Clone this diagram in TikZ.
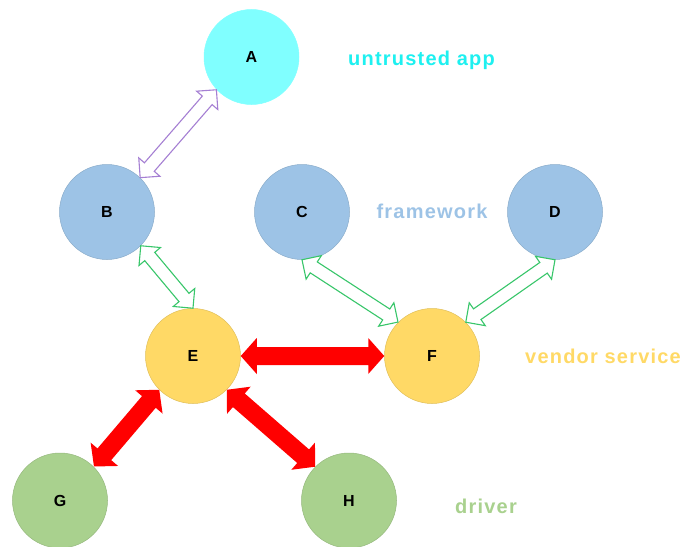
\documentclass[tikz,border=0pt]{standalone}
\usepackage{fontspec}
\setmainfont{Liberation Sans}
\usetikzlibrary{calc}

\definecolor{appfill}{HTML}{80FFFF}
\definecolor{apptext}{HTML}{1EF0F0}
\definecolor{fwblue}{HTML}{9DC3E6}
\definecolor{vsyellow}{HTML}{FFD966}
\definecolor{drvgreen}{HTML}{A9D18E}
\definecolor{linkpurple}{HTML}{A57FD3}
\definecolor{linkgreen}{HTML}{38C66A}
\definecolor{hotred}{HTML}{FF0000}

% Double-headed block arrow between two points.
% #1 style, #2 start, #3 end, #4 half shaft width, #5 half head width, #6 head length (pt)
\newcommand\blockarrow[6]{%
  \path let \p1=(#2), \p2=(#3) in
    \pgfextra{%
      \pgfmathsetmacro\batmpang{atan2(\y2-\y1,\x2-\x1)}%
      \pgfmathsetmacro\batmplen{veclen(\x2-\x1,\y2-\y1)}%
      \global\let\baang\batmpang
      \global\let\balen\batmplen
      \xdef\bax{\x1}\xdef\bay{\y1}};
  \draw[#1, shift={(\bax,\bay)}, rotate=\baang]
    (0pt,0pt) -- (#6pt,#5pt) -- (#6pt,#4pt) -- (\balen pt-#6pt,#4pt)
    -- (\balen pt-#6pt,#5pt) -- (\balen pt,0pt) -- (\balen pt-#6pt,-#5pt)
    -- (\balen pt-#6pt,-#4pt) -- (#6pt,-#4pt) -- (#6pt,-#5pt) -- cycle;
}

\tikzset{
  ball/.style={circle, minimum size=95pt, inner sep=0pt, line width=0.5pt,
    fill=#1, draw=#1!88!black,
    font=\fontsize{16}{19}\selectfont\bfseries},
  tier/.style={anchor=base, text=#1,
    font=\fontsize{20}{24}\selectfont\bfseries\addfontfeatures{LetterSpace=6}},
  hollowlink/.style={draw=#1, fill=white, line width=1.1pt, line join=miter},
  hotlink/.style={fill=hotred, draw=none},
}

\begin{document}
\begin{tikzpicture}[x=1pt, y=-1pt]
  \useasboundingbox (0,0) rectangle (687,546);

  % components
  \node[ball=appfill, draw=appfill] (A) at (251.5,57) {A};
  \node[ball=fwblue] (B) at (107,212) {B};
  \node[ball=fwblue] (C) at (302,212) {C};
  \node[ball=fwblue] (D) at (555,212) {D};
  \node[ball=vsyellow] (E) at (193,356) {E};
  \node[ball=vsyellow] (F) at (432,356) {F};
  \node[ball=drvgreen] (G) at (60,500.5) {G};
  \node[ball=drvgreen] (H) at (349,500.5) {H};

  % layer names
  \node[tier=apptext] (tapp) at (421.5,65) {untrusted app};
  \node[tier=fwblue] (tfw) at (432,218) {framework};
  \node[tier=vsyellow] (tvs) at (603,363) {vendor service};
  \node[tier=drvgreen] (tdrv) at (486,513) {driver};

  % binder-style links
  \blockarrow{hollowlink=linkpurple}{B.46}{A.223}{6.5}{14}{14}
  \blockarrow{hollowlink=linkgreen}{B.315}{E.90}{6.5}{14}{14}
  \blockarrow{hollowlink=linkgreen}{C.270}{F.135}{6.5}{14}{14}
  \blockarrow{hollowlink=linkgreen}{D.270}{F.45}{6.5}{14}{14}

  % hardware-facing links
  \blockarrow{hotlink}{E.0}{F.180}{9}{18}{16}
  \blockarrow{hotlink}{E.225}{G.45}{9}{18}{16}
  \blockarrow{hotlink}{E.315}{H.135}{9}{18}{16}
\end{tikzpicture}
\end{document}
